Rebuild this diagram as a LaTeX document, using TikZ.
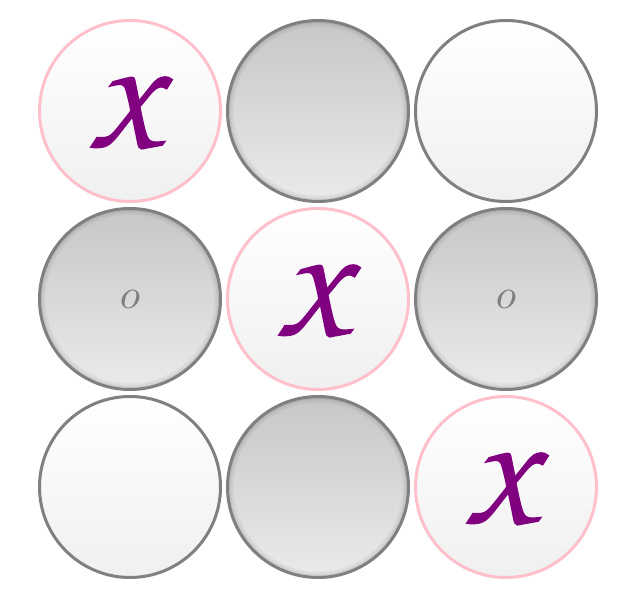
\documentclass[tikz,border=0pt]{standalone}
\usepackage{amsmath,graphicx}
\usetikzlibrary{positioning}

\definecolor{rimpink}{RGB}{255,192,203}
\definecolor{markpurple}{RGB}{128,0,128}

\tikzset{
  cell/.style={circle,draw=black!50,line width=3pt,minimum size=181pt,inner sep=0pt},
  blank/.style={cell,top color=white,bottom color=black!6},
  taken/.style={blank,draw=rimpink,text=markpurple},
  pressed/.style={cell,top color=black!22,bottom color=black!8,text=black!50},
}
\newcommand{\chancery}{\fontencoding{T1}\fontfamily{pzc}\selectfont}
\newcommand{\crossmark}{\hspace*{-10pt}\raisebox{2pt}{\scalebox{12}{\chancery\special{pdf:literal direct 2 Tr 0.18 w}X\special{pdf:literal direct 0 Tr}}}}
\newcommand{\noughtmark}{\scalebox{4.2}{$o$}}

\begin{document}
\begin{tikzpicture}[x=1pt,y=1pt]
\useasboundingbox (0,0) rectangle (644,596);
% board
\node[taken] (a1) at (130,485) {\crossmark};
\node[pressed,right=4pt of a1] (a2) {};
\node[blank,right=4pt of a2] (a3) {};
\node[pressed,below=4pt of a1] (b1) {\noughtmark};
\node[taken,right=4pt of b1] (b2) {\crossmark};
\node[pressed,right=4pt of b2] (b3) {\noughtmark};
\node[blank,below=4pt of b1] (c1) {};
\node[pressed,right=4pt of c1] (c2) {};
\node[taken,right=4pt of c2] (c3) {\crossmark};
% soft rim on the pressed cells
\foreach \c in {a2,b1,b3,c2}{
  \begin{scope}
    \clip (\c.center) circle (89pt);
    \foreach \w in {2,5,9}
      \draw[black,opacity=.04,line width=\w pt] (\c.center) circle (89pt);
  \end{scope}
}
\end{tikzpicture}
\end{document}
